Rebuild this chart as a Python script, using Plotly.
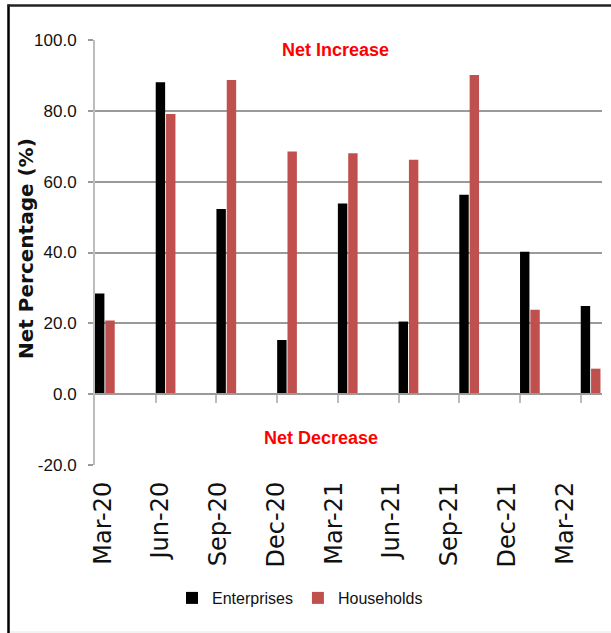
import plotly.graph_objects as go

# Quarterly net percentages (net increase minus net decrease)
quarters = ["Mar-20", "Jun-20", "Sep-20", "Dec-20", "Mar-21",
            "Jun-21", "Sep-21", "Dec-21", "Mar-22"]
enterprises = [28.4, 88.1, 52.3, 15.3, 53.8, 20.5, 56.3, 40.2, 24.9]
households = [20.8, 79.1, 88.7, 68.5, 68.0, 66.2, 90.1, 23.8, 7.2]
y_ticks = [-20, 0, 20, 40, 60, 80, 100]

idx = list(range(len(quarters)))

NARROW = "Liberation Sans, Arial, sans-serif"
GRID = "#9a9a9a"
AXIS = "#bdbdbd"

W, H = 611, 633
M_L, M_R, M_T, M_B = 95, 9, 40, 168
PW, PH = W - M_L - M_R, H - M_T - M_B


def px_x(p):
    return (p - M_L) / PW


def px_y(p):
    return (H - M_B - p) / PH


fig = go.Figure()
fig.add_trace(go.Bar(
    x=idx, y=enterprises, name="Enterprises",
    offset=-0.5, width=0.155,
    marker=dict(color="#000000", line=dict(width=0)),
))
fig.add_trace(go.Bar(
    x=idx, y=households, name="Households",
    offset=-0.33, width=0.155,
    marker=dict(color="#C0504D", line=dict(width=0)),
))

y_lo, y_hi = y_ticks[0], y_ticks[-1]
zero_pos = (0 - y_lo) / (y_hi - y_lo)

fig.update_layout(
    width=W, height=H,
    margin=dict(l=M_L, r=M_R, t=M_T, b=M_B, autoexpand=False),
    paper_bgcolor="white", plot_bgcolor="white",
    barmode="overlay",
    showlegend=True,
    legend=dict(
        orientation="h", x=px_x(300), xanchor="center",
        y=px_y(598), yanchor="middle",
        font=dict(family=NARROW, size=16, color="#111111"),
        itemwidth=30, tracegroupgap=0,
    ),
    xaxis=dict(
        type="linear", range=[-0.5, 7.85],
        anchor="free", position=zero_pos,
        tickmode="array",
        tickvals=[-0.37 + k * 0.951 for k in idx],
        ticktext=quarters,
        tickangle=-90,
        ticks="",
        ticklabelstandoff=77,
        tickfont=dict(family="DejaVu Sans", size=24, color="#111111"),
        showline=True, linecolor=GRID, linewidth=2,
        showgrid=False, zeroline=False,
        minor=dict(
            tickmode="array",
            tickvals=[k - 0.5 for k in idx[1:]],
            ticks="outside", ticklen=8, tickwidth=2, tickcolor=AXIS,
            showgrid=False,
        ),
    ),
    yaxis=dict(
        range=[y_lo, y_hi],
        tickmode="array", tickvals=y_ticks,
        ticktext=[f"{v:.1f}" for v in y_ticks],
        ticks="outside", ticklen=5, tickwidth=2, tickcolor=GRID,
        ticklabelstandoff=8,
        tickfont=dict(family=NARROW, size=17, color="#111111"),
        showgrid=True, gridcolor=GRID, gridwidth=2,
        showline=True, linecolor=AXIS, linewidth=2,
        zeroline=False,
    ),
    annotations=[
        dict(text="Net Percentage (%)", xref="paper", yref="paper",
             x=px_x(25.5), y=px_y(248.5), xanchor="center", yanchor="middle",
             textangle=-90, showarrow=False,
             font=dict(family="DejaVu Sans", size=20, color="#111111", weight="bold")),
        dict(text="Net Increase", xref="paper", yref="paper",
             x=px_x(335), y=px_y(50), xanchor="center", yanchor="middle",
             showarrow=False,
             font=dict(family=NARROW, size=18, color="#FF0000", weight="bold")),
        dict(text="Net Decrease", xref="paper", yref="paper",
             x=px_x(321), y=px_y(438), xanchor="center", yanchor="middle",
             showarrow=False,
             font=dict(family=NARROW, size=18, color="#FF0000", weight="bold")),
    ],
    shapes=[
        dict(type="line", xref="paper", yref="paper",
             x0=px_x(8.5), x1=px_x(8.5), y0=px_y(4.5), y1=px_y(H),
             line=dict(color="#000000", width=2.5)),
        dict(type="line", xref="paper", yref="paper",
             x0=px_x(7.5), x1=px_x(W), y0=px_y(5.5), y1=px_y(5.5),
             line=dict(color="#222222", width=2.5)),
        dict(type="line", xref="paper", yref="paper",
             x0=px_x(10), x1=px_x(W), y0=px_y(632), y1=px_y(632),
             line=dict(color="#e6e6e6", width=1)),
    ],
)

fig.write_html("out.html")
